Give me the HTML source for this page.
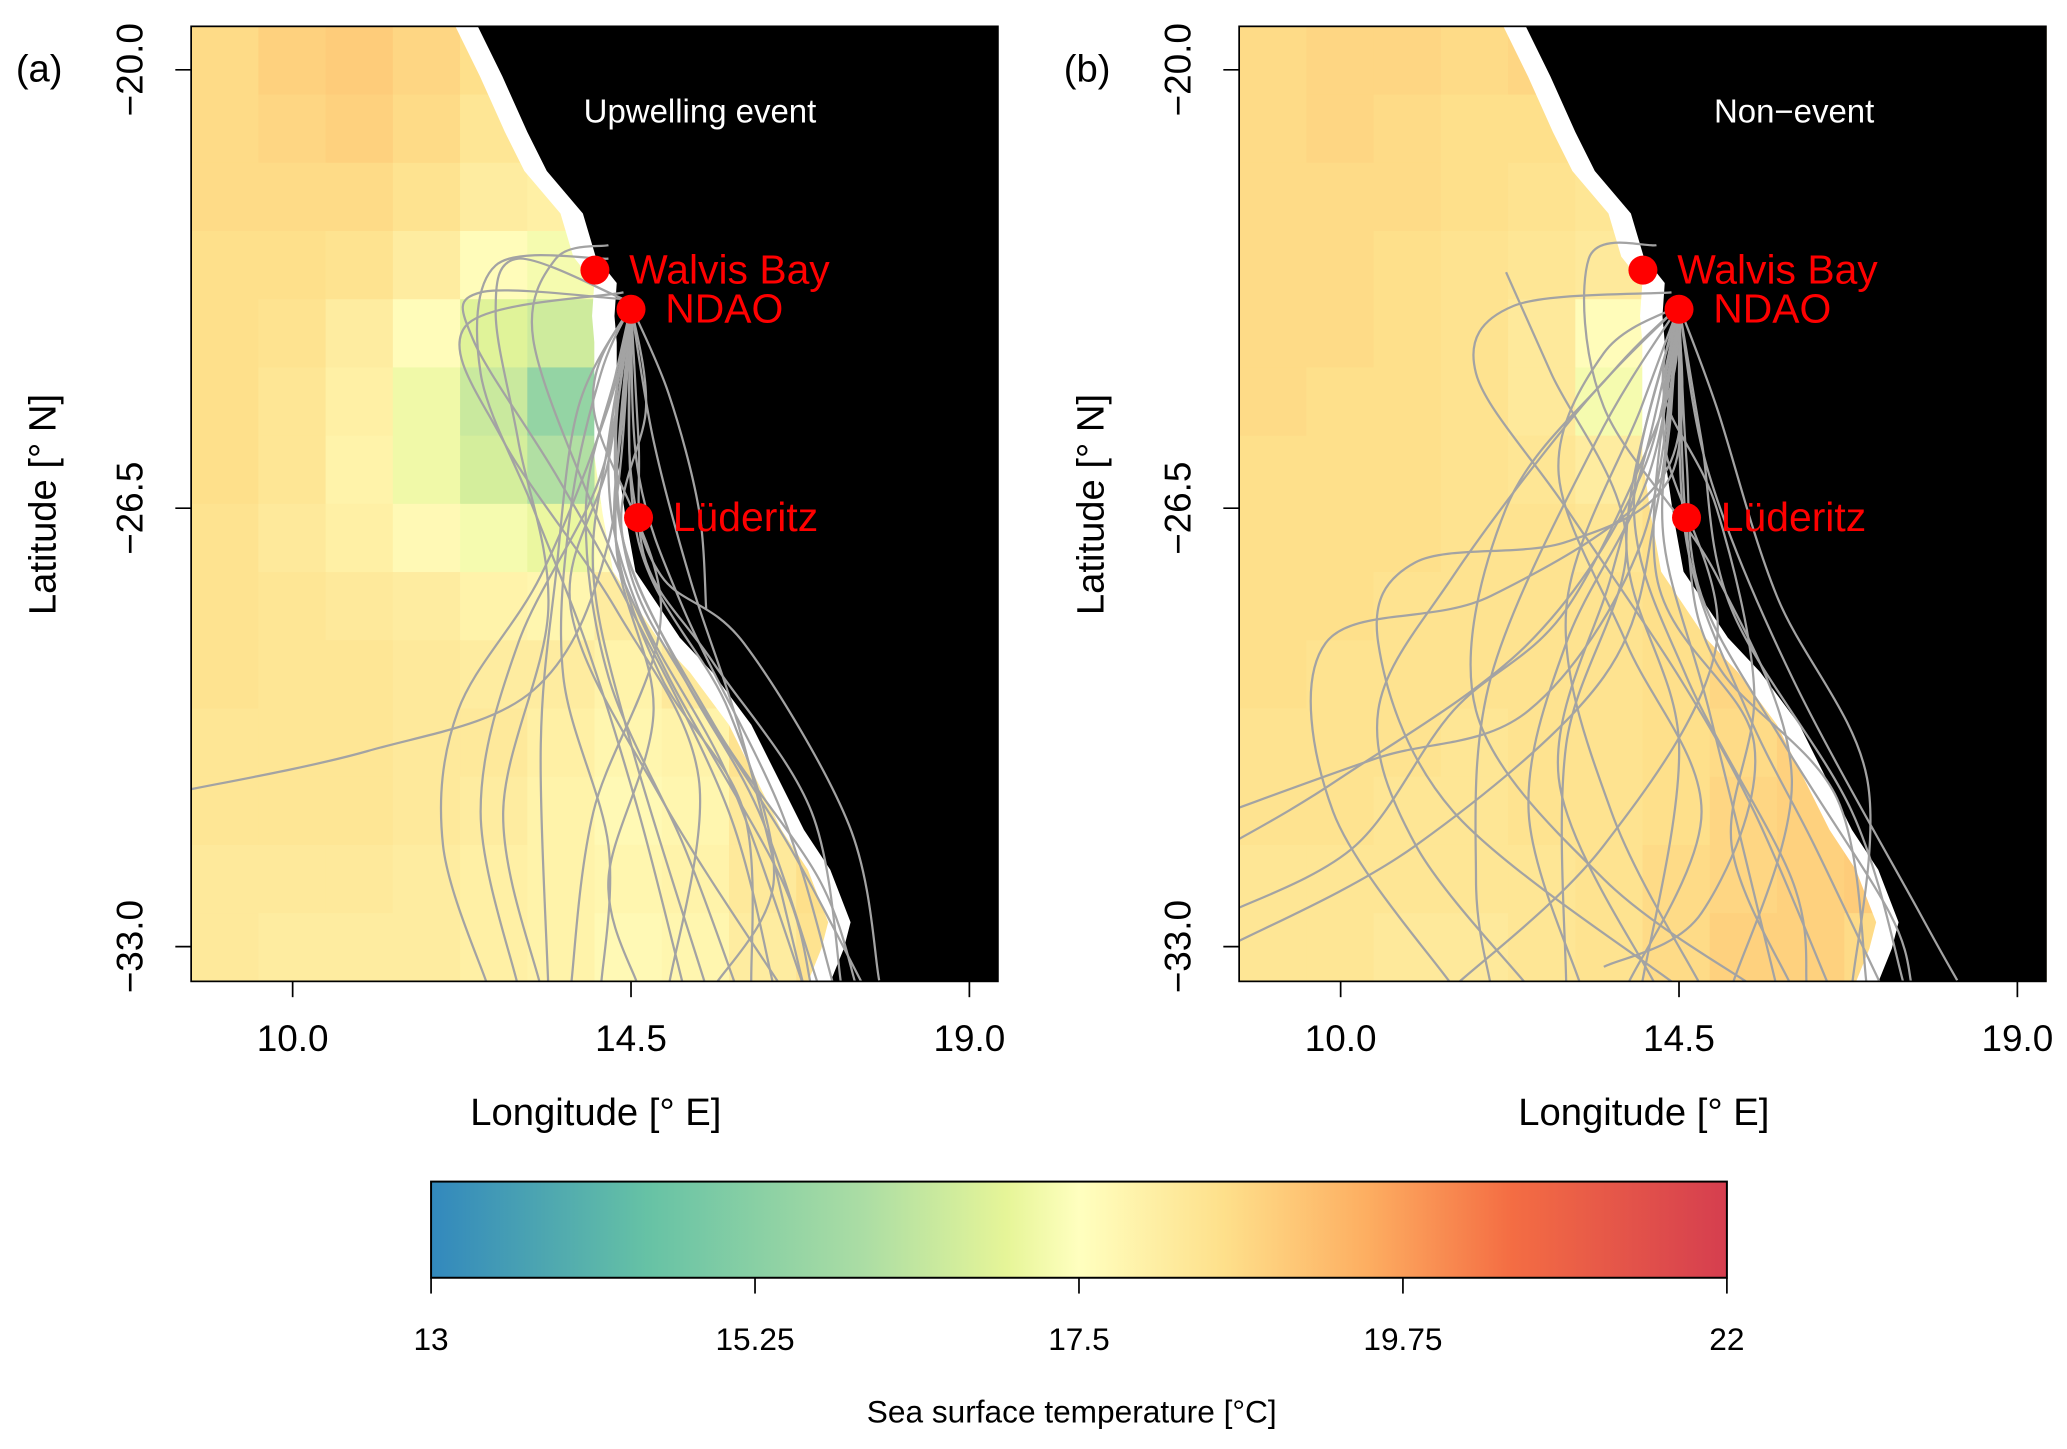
<!DOCTYPE html>
<html><head><meta charset="utf-8"><style>
html,body{margin:0;padding:0;background:#fff;}
svg{display:block;font-family:"Liberation Sans",sans-serif;}
</style></head><body>
<svg id="fig" width="2067" height="1449" viewBox="0 0 1568 1100" preserveAspectRatio="none" xmlns="http://www.w3.org/2000/svg">
<defs>
<linearGradient id="cbar" x1="0" x2="1" y1="0" y2="0">
<stop offset="0" stop-color="#3288bd"/><stop offset="0.1667" stop-color="#66c2a5"/><stop offset="0.3333" stop-color="#abdda4"/><stop offset="0.4444" stop-color="#e6f598"/><stop offset="0.5" stop-color="#ffffbf"/><stop offset="0.6111" stop-color="#fee08b"/><stop offset="0.7222" stop-color="#fdae61"/><stop offset="0.8333" stop-color="#f46d43"/><stop offset="1" stop-color="#d53e4f"/>
</linearGradient>
<clipPath id="clipA"><rect x="145" y="20" width="612" height="725"/></clipPath>
<clipPath id="clipB"><rect x="940" y="20" width="613" height="725"/></clipPath>
</defs>
<g id="panelA"></g>
<g id="panelB"></g>
<g id="legend">
<rect x="327" y="897" width="983" height="73" fill="url(#cbar)" stroke="#000" stroke-width="1.5"/>
</g>
</svg>
<script>
// ---------- data ----------
const lonTicks = [10.0, 14.5, 19.0];
const latTicks = [-20.0, -26.5, -33.0];
const cbarTicks = ["13", "15.25", "17.5", "19.75", "22"];
const cbarValues = [13, 15.25, 17.5, 19.75, 22];
const sites = ["Walvis Bay", "NDAO", "Lüderitz"];
const siteLon = [14.02, 14.5, 14.6];
const siteLat = [-22.97, -23.55, -26.64];

const sstA = [
[18.6,18.8,18.9,18.7,18.5,19.6,18.5,18.5,18.5,18.5,18.5,18.5],
[18.6,18.7,18.8,18.6,18.3,18.5,19.4,18.5,18.5,18.5,18.5,18.5],
[18.6,18.6,18.6,18.4,18.1,18.0,19.0,18.5,18.5,18.5,18.5,18.5],
[18.5,18.5,18.4,18.1,17.6,17.3,18.0,18.5,18.5,18.5,18.5,18.5],
[18.5,18.4,18.1,17.6,16.9,16.6,18.8,18.5,18.5,18.5,18.5,18.5],
[18.5,18.3,18.0,17.2,16.5,15.5,17.0,18.5,18.5,18.5,18.5,18.5],
[18.5,18.3,17.9,17.2,16.7,16.1,17.3,18.5,18.5,18.5,18.5,18.5],
[18.4,18.2,18.0,17.7,17.3,17.1,17.6,18.5,18.5,18.5,18.5,18.5],
[18.4,18.3,18.2,18.1,17.9,17.8,18.1,19.6,18.5,18.5,18.5,18.5],
[18.4,18.3,18.3,18.2,18.1,18.1,17.9,18.2,19.0,18.5,18.5,18.5],
[18.3,18.3,18.3,18.2,18.2,18.0,17.8,17.9,18.4,19.4,18.5,18.5],
[18.3,18.3,18.3,18.2,18.1,17.9,17.7,17.8,18.2,19.0,18.5,18.5],
[18.2,18.2,18.2,18.1,18.0,17.9,17.8,17.9,18.2,18.5,18.5,18.5],
[18.2,18.1,18.1,18.1,18.0,17.9,17.7,17.8,18.1,18.4,18.5,18.5]
];
const sstB = [
[18.6,18.7,18.7,18.6,18.7,19.6,18.5,18.5,18.5,18.5,18.5,18.5],
[18.6,18.7,18.6,18.5,18.5,18.6,19.5,18.5,18.5,18.5,18.5,18.5],
[18.6,18.6,18.6,18.5,18.4,18.3,18.9,18.5,18.5,18.5,18.5,18.5],
[18.6,18.6,18.5,18.4,18.3,18.2,18.6,18.5,18.5,18.5,18.5,18.5],
[18.6,18.6,18.5,18.4,18.2,17.6,18.3,18.5,18.5,18.5,18.5,18.5],
[18.6,18.5,18.5,18.4,18.2,17.3,18.2,18.5,18.5,18.5,18.5,18.5],
[18.5,18.5,18.5,18.4,18.3,18.1,18.4,18.5,18.5,18.5,18.5,18.5],
[18.5,18.5,18.5,18.4,18.4,18.3,18.5,18.9,18.5,18.5,18.5,18.5],
[18.5,18.5,18.4,18.4,18.4,18.4,18.5,18.9,19.4,18.5,18.5,18.5],
[18.5,18.4,18.4,18.4,18.4,18.4,18.5,18.7,19.0,18.5,18.5,18.5],
[18.4,18.4,18.4,18.3,18.4,18.4,18.5,18.6,18.8,19.5,18.5,18.5],
[18.4,18.4,18.3,18.3,18.4,18.4,18.5,18.7,18.8,19.2,18.5,18.5],
[18.3,18.3,18.3,18.3,18.3,18.4,18.6,18.7,18.8,18.9,18.5,18.5],
[18.3,18.3,18.2,18.2,18.3,18.4,18.6,18.8,18.8,18.6,18.5,18.5]
];

const trajA = [
[[14.5,-23.5],[14.3,-25],[14.4,-27],[15.2,-29],[16.2,-31],[17,-33.6]],
[[14.5,-23.5],[14.2,-25.5],[14.0,-27.5],[14.5,-30],[15.5,-33.6]],
[[14.5,-23.5],[13.8,-25],[13.5,-27.5],[13.3,-30],[13.4,-33.6]],
[[14.4,-23.4],[12.5,-23.3],[12.4,-24],[13.5,-26],[14.5,-28],[15.8,-31],[16.4,-33.6]],
[[14.5,-23.6],[14.6,-26],[15.2,-28],[16.5,-31],[17.2,-33.6]],
[[14.5,-23.5],[14.1,-26],[13.0,-28.5],[12.5,-31],[13.0,-33.6]],
[[14.5,-23.5],[14.3,-27],[14.8,-29.5],[14.2,-32],[14.6,-33.6]],
[[8.5,-30.7],[11,-30.1],[13.2,-29.2],[14.2,-27],[14.5,-23.6]],
[[14.2,-22.6],[13.5,-22.8],[13.2,-24],[14,-26.5],[15,-29],[16.5,-32],[16.9,-33.6]],
[[14.5,-23.5],[14.8,-25.5],[15.3,-27.6],[16,-30],[16.8,-33.6]],
[[14.5,-23.5],[14.2,-25],[13.3,-27.5],[12.2,-29.5],[12.0,-31.5],[12.6,-33.6]],
[[14.5,-23.5],[14.6,-27],[15.8,-29.5],[16.4,-32],[15.6,-33.6]],
[[14.5,-23.5],[14.0,-25],[14.9,-28],[14.0,-31],[13.7,-33.6]],
[[14.5,-23.5],[14.5,-26],[14.9,-27.5],[16.0,-28.5],[17.4,-31.2],[17.8,-33.5]],
[[14.4,-23.3],[12.3,-23.8],[12.8,-25.5],[14.3,-28],[15.4,-30.5],[15.0,-33.6]],
[[14.5,-23.5],[15.0,-24.8],[15.4,-26.5],[15.5,-28]],
[[14.5,-23.5],[14.3,-24.5],[13.9,-26.5],[14.2,-29],[15.2,-31.5],[15.9,-33.6]],
[[14.5,-23.5],[14.7,-25],[14.4,-27],[15.6,-29.7],[17.0,-32],[17.5,-33.6]],
[[14.5,-23.5],[14.3,-25.5],[14.5,-27.5],[15.3,-29.2],[16.6,-31.5],[17.6,-33.6]],
[[14.5,-23.5],[14.2,-26],[14.6,-28],[15.8,-30.5],[16.8,-33.6]],
[[14.5,-23.5],[14.4,-25],[14.3,-27],[14.9,-29],[16.0,-31],[16.1,-33.6]],
[[14.2,-22.8],[12.7,-22.9],[12.5,-24.5],[13.2,-26.5],[13.9,-28.5],[14.6,-31],[15.2,-33.6]],
[[14.5,-23.5],[14.1,-24.5],[13.7,-26.5],[13.6,-29],[14.2,-31.5],[14.1,-33.6]],
[[14.5,-23.5],[14.6,-25.5],[14.7,-27.3],[15.6,-28.8],[16.9,-31],[17.3,-33.6]],
[[14.4,-23.4],[13.0,-22.8],[12.7,-23.6],[13.0,-25.5],[13.4,-28],[12.8,-31],[13.3,-33.6]],
[[14.5,-23.5],[14.2,-25.8],[13.7,-28],[14.9,-30.8],[16.5,-33.6]]
];
const trajB = [
[[14.5,-23.5],[13.2,-25],[11.5,-27.5],[10.5,-29.5],[11,-31.5],[12.5,-33.6]],
[[14.5,-23.5],[14,-26],[12.5,-28.5],[10,-30.5],[8.5,-31.5]],
[[14.5,-23.5],[14.2,-26.5],[13.5,-29],[11,-31.5],[8.5,-33]],
[[14.4,-23.3],[12.3,-23.5],[11.8,-24.5],[13,-26.5],[14.5,-29],[15.5,-31],[16.5,-33.6]],
[[14.5,-23.5],[14.1,-26],[13,-28.5],[12.5,-31],[13.2,-33.6]],
[[14.5,-23.5],[14.6,-27],[15.4,-29.5],[16.3,-31.5],[17.2,-33.6]],
[[14.5,-23.5],[13.8,-27],[14.5,-30],[14.0,-33.6]],
[[14.5,-23.5],[14.3,-26],[12.0,-27.8],[9.8,-28.5],[9.9,-31],[11.5,-33.6]],
[[14.2,-22.6],[13.3,-22.8],[13.5,-25],[15,-27.5],[16,-30.5],[15.2,-33.6]],
[[14.5,-23.5],[14.0,-25],[13.0,-28],[13.6,-31],[14.8,-33.6]],
[[14.5,-23.5],[14.8,-25.5],[15.2,-28],[16.8,-31],[17.5,-33.6]],
[[14.5,-23.5],[13.4,-25.5],[12.0,-29],[11.8,-32],[12.0,-33.6]],
[[14.5,-23.5],[14.2,-27.5],[15.5,-30],[14.8,-32.5],[13.5,-33.3]],
[[14.5,-23.5],[14.4,-26],[13.0,-27],[11.0,-27.3],[10.5,-28.5],[11.5,-31],[14.5,-33.6]],
[[8.5,-31],[10.5,-30.2],[12.5,-29.5],[14,-27],[14.5,-23.6]],
[[14.5,-23.5],[14.9,-26],[16,-29],[17.7,-32.5],[18.2,-33.5]],
[[12.2,-23],[12.8,-24.5],[13.8,-27],[13.0,-30],[13.0,-33.6]],
[[14.5,-23.5],[13.9,-26.5],[14.6,-29],[16,-32],[16.2,-33.6]],
[[14.5,-23.5],[13.6,-24.5],[12.2,-26.5],[11.8,-29.5],[13.5,-32],[15.5,-33.6]],
[[14.5,-23.5],[15.0,-25],[15.8,-27.8],[17.0,-30.5],[16.8,-33.6]],
[[8.5,-32.5],[10.2,-31.5],[11.5,-29.5],[13.0,-28.0],[14.3,-25],[14.5,-23.6]],
[[14.5,-23.5],[14.3,-25.5],[15.0,-28.5],[13.5,-31.5],[11.5,-33.6]],
[[14.5,-23.5],[14.4,-25],[14.3,-27],[14.9,-29.5],[15.8,-33.6]],
[[14.5,-23.5],[14.6,-25.8],[14.8,-27.8],[15.9,-30],[17.3,-32.5],[17.6,-33.6]],
[[14.5,-23.5],[14.1,-25.5],[13.6,-27.5],[12.9,-30.5],[14.2,-33.6]],
[[14.5,-23.5],[14.6,-26.8],[15.0,-28.8],[16.6,-30.8],[17.0,-33.6]],
[[14.5,-23.5],[13.5,-24.2],[12.9,-26],[13.8,-28.5],[14.8,-31],[13.8,-33.6]],
[[14.5,-23.5],[14.3,-24.8],[15.0,-26.5],[15.5,-29.2],[15.2,-31.5],[16.0,-33.6]]
];

// coastline (land edge) in lon/lat
const coastLon = [12.42,12.79,13.12,13.38,13.86,14.03,14.31,14.28,14.31,14.31,14.42,14.56,15.15,15.58,16.10,16.45,16.80,17.15,17.42,17.33,17.12];
const coastLat = [-19.26,-20.10,-20.92,-21.50,-22.13,-22.77,-23.16,-23.65,-24.04,-25.72,-26.58,-27.44,-28.42,-28.93,-29.71,-30.49,-31.27,-31.86,-32.64,-33.03,-33.61];

// ---------- rendering ----------
const NS = "http://www.w3.org/2000/svg";
function mk(tag, attrs, parent){const e=document.createElementNS(NS,tag);for(const k in attrs)e.setAttribute(k,attrs[k]);parent.appendChild(e);return e;}
const stops=[[13,[50,136,189]],[14.5,[102,194,165]],[16,[171,221,164]],[17,[230,245,152]],[17.5,[255,255,191]],[18.5,[254,224,139]],[19.5,[253,174,97]],[20.5,[244,109,67]],[22,[213,62,79]]];
function col(v){v=Math.max(13,Math.min(22,v));for(let i=0;i<stops.length-1;i++){const a=stops[i],b=stops[i+1];if(v<=b[0]){const t=(v-a[0])/(b[0]-a[0]);const c=a[1].map((x,j)=>Math.round(x+(b[1][j]-x)*t));return `rgb(${c[0]},${c[1]},${c[2]})`;}}return 'rgb(213,62,79)';}
function smooth(pts){let d=`M${pts[0][0]},${pts[0][1]}`;for(let i=0;i<pts.length-1;i++){const p0=pts[Math.max(0,i-1)],p1=pts[i],p2=pts[i+1],p3=pts[Math.min(pts.length-1,i+2)];const c1=[p1[0]+(p2[0]-p0[0])/6,p1[1]+(p2[1]-p0[1])/6],c2=[p2[0]-(p3[0]-p1[0])/6,p2[1]-(p3[1]-p1[1])/6];d+=` C${c1[0]},${c1[1]} ${c2[0]},${c2[1]} ${p2[0]},${p2[1]}`;}return d;}

function panel(gid, x0, sst, traj, letter, title, titleX, clip){
  const g=document.getElementById(gid);
  const X=lon=>x0+77+(lon-10)*57.04, Y=lat=>53+(-20-lat)*51.2;
  const W=612,H=725,top=20;
  const cells=mk('g',{'clip-path':`url(#${clip})`},g);
  
  
  const rows=sst.length, cols=sst[0].length, cw=W/cols, ch=H/rows;
  sst.forEach((row,r)=>row.forEach((v,c)=>{const e=mk('rect',{x:x0+c*cw,y:top+r*ch,width:cw+0.6,height:ch+0.6,fill:col(v)},cells);
    
    }));
  const lp=coastLon.map((l,i)=>[X(l),Y(coastLat[i])]);
  const white=mk('path',{d:'M'+lp.map(p=>(p[0]-17)+','+p[1]).join(' L')+` L${x0+W},${top+H+10} L${x0+W},${top-10} Z`,fill:'#fff','clip-path':`url(#${clip})`},g);
  
  
  const land=mk('path',{d:'M'+lp.map(p=>p[0]+','+p[1]).join(' L')+` L${x0+W},${top+H+10} L${x0+W},${top-10} Z`,fill:'#000','clip-path':`url(#${clip})`},g);
  
  
  const tg=mk('g',{'clip-path':`url(#${clip})`,fill:'none',stroke:'#a3a3a3','stroke-width':1.7},g);
  
  
  traj.forEach(t=>{const p=mk('path',{d:smooth(t.map(q=>[X(q[0]),Y(q[1])]))},tg);
    
    });
  const frame=mk('rect',{x:x0,y:top,width:W,height:H,fill:'none',stroke:'#000','stroke-width':1.3},g);
  
  
  sites.forEach((s,i)=>{const cx=X(siteLon[i]),cy=Y(siteLat[i]);
    const c=mk('circle',{cx:cx,cy:cy,r:11,fill:'#ff0000'},g);
    
    
    const t=mk('text',{x:cx+26,y:cy+10,fill:'#ff0000','font-size':31},g);t.textContent=s;
    
    });
  const pt=mk('text',{x:titleX,y:93,fill:'#fff','font-size':25,'text-anchor':'middle'},g);pt.textContent=title;
  
  
  const lt=mk('text',{x:x0-133,y:62,'font-size':29},g);lt.textContent=letter;
  
  
  lonTicks.forEach(v=>{const x=X(v);
    const tk=mk('line',{x1:x,x2:x,y1:top+H,y2:top+H+12,stroke:'#000','stroke-width':1.3},g);
    
    
    const t=mk('text',{x:x,y:798,'font-size':28,'text-anchor':'middle'},g);t.textContent=v.toFixed(1);
    
    });
  latTicks.forEach(v=>{const y=Y(v);
    const tk=mk('line',{x1:x0-12,x2:x0,y1:y,y2:y,stroke:'#000','stroke-width':1.3},g);
    
    
    const t=mk('text',{x:0,y:0,'font-size':28,'text-anchor':'middle',transform:`translate(${x0-37},${y}) rotate(-90)`},g);t.textContent='\u2212'+Math.abs(v).toFixed(1);
    
    });
  const xt=mk('text',{x:x0+307,y:854,'font-size':29,'text-anchor':'middle'},g);xt.textContent='Longitude [\u00b0 E]';
  
  
  const yt=mk('text',{x:0,y:0,'font-size':29,'text-anchor':'middle',transform:`translate(${x0-103},383) rotate(-90)`},g);yt.textContent='Latitude [\u00b0 N]';
  
  
}
panel('panelA',145,sstA,trajA,'(a)','Upwelling event',531,'clipA');
panel('panelB',940,sstB,trajB,'(b)','Non\u2212event',1361,'clipB');

const lg=document.getElementById('legend');
const CX=v=>327+(v-13)/(22-13)*983;
cbarValues.forEach((v,i)=>{
  const tk=mk('line',{x1:CX(v),x2:CX(v),y1:970,y2:982,stroke:'#000','stroke-width':1.3},lg);
  
  
  const t=mk('text',{x:CX(v),y:1025,'font-size':24,'text-anchor':'middle'},lg);t.textContent=cbarTicks[i];
  
  });
const ct=mk('text',{x:813,y:1080,'font-size':24,'text-anchor':'middle'},lg);ct.textContent='Sea surface temperature [\u00b0C]';


</script>
</body></html>
